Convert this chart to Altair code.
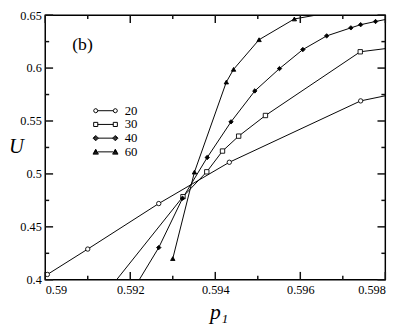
import math
import altair as alt
import pandas as pd

# ---------------- data ----------------
p20 = [0.59005, 0.59100, 0.59267, 0.59433, 0.59742, 0.59850]
u20 = [0.405, 0.429, 0.472, 0.511, 0.569, 0.578]

p30 = [0.59130, 0.59324, 0.59380, 0.59417, 0.59455, 0.59518, 0.59741, 0.59850]
u30 = [0.381, 0.4785, 0.502, 0.5216, 0.5357, 0.5552, 0.6154, 0.6209]

p40 = [0.59200, 0.59267, 0.59323, 0.59381, 0.59437, 0.59493, 0.59551,
       0.59606, 0.59662, 0.59719, 0.59742, 0.59777, 0.59850]
u40 = [0.386, 0.4304, 0.477, 0.5155, 0.5492, 0.5784, 0.5995,
       0.6175, 0.6304, 0.638, 0.641, 0.644, 0.650]

p60 = [0.59300, 0.59351, 0.59426, 0.59443, 0.59503, 0.59586, 0.59660]
u60 = [0.420, 0.5017, 0.5868, 0.5988, 0.6268, 0.6464, 0.6517]

series_names = ["20", "30", "40", "60"]
hollow_series = ["20", "30"]
filled_series = ["40", "60"]

x_major = [0.590, 0.592, 0.594, 0.596, 0.598]
x_minor = [0.591, 0.593, 0.595, 0.597]
y_major = [0.40, 0.45, 0.50, 0.55, 0.60, 0.65]
y_minor = [0.425, 0.475, 0.525, 0.575, 0.625]

panel_label = ["(b)"]
panel_label_p = [0.590876]
panel_label_u = [0.622]

# ---------------- tables ----------------
rows = []
for name, ps, us in zip(series_names, [p20, p30, p40, p60], [u20, u30, u40, u60]):
    for p, u in zip(ps, us):
        rows.append({"N": name, "p": p, "U": u})
df = pd.DataFrame(rows)
ann = pd.DataFrame({"t": panel_label, "p": panel_label_p, "U": panel_label_u})
legdf = pd.DataFrame({"N": series_names})

# ---------------- styling ----------------
W, H = 347, 270
FONT = "Liberation Serif"
xs = alt.Scale(domain=[0.590, 0.598], nice=False, zero=False)
ys = alt.Scale(domain=[0.40, 0.65], nice=False, zero=False)
marker_shapes = ["circle", "square", "diamond", "triangle-up"]

# legend symbols: a line with a marker at each end (custom SVG paths)
SYM = 121                      # symbol size -> 5.5 px per unit
PX = math.sqrt(SYM) / 2
U_HALF = 10 / PX
M = 2.1 / PX


def octagon(cx, r):
    pts = [(cx + r * math.cos(k * math.pi / 4), r * math.sin(k * math.pi / 4)) for k in range(8)]
    return "M" + "L".join(f"{a:.3f},{b:.3f}" for a, b in pts) + "Z"


def square(cx, r):
    return f"M{cx-r:.3f},{-r:.3f}H{cx+r:.3f}V{r:.3f}H{cx-r:.3f}Z"


def diamond_one(cx, r):
    return f"M{cx:.3f},{-r:.3f}L{cx+r:.3f},0L{cx:.3f},{r:.3f}L{cx-r:.3f},0Z"


def diamond(cx, r):
    r = r * 1.3
    return "".join(diamond_one(cx, r * k) for k in (1.0, 0.68, 0.36, 0.05))


def triangle_one(cx, r):
    return f"M{cx:.3f},{-r:.3f}L{cx+r:.3f},{0.85*r:.3f}L{cx-r:.3f},{0.85*r:.3f}Z"


def triangle(cx, r):
    r = r * 1.3
    return "".join(triangle_one(cx, r * k) for k in (1.0, 0.68, 0.36, 0.05))


def legend_path(fn):
    line = f"M{-U_HALF+M:.3f},0H{U_HALF-M:.3f}"
    return line + fn(-U_HALF, M) + fn(U_HALF, M)


legend_shapes = [legend_path(f) for f in (octagon, square, diamond, triangle)]

# inward tick marks on all four sides (tick marks placed by the scales)
tick_layers = []
for vals, ln in ((x_major, 8), (x_minor, 4)):
    tdf = pd.DataFrame({"tx": vals})
    for yc in (H - ln / 2, ln / 2):
        tick_layers.append(alt.Chart(tdf).mark_tick(
            color="#111111", orient="vertical", size=ln, thickness=1.5, opacity=1).encode(
            x=alt.X("tx:Q", scale=xs), y=alt.value(yc)))
for vals, ln in ((y_major, 8), (y_minor, 4)):
    tdf = pd.DataFrame({"ty": vals})
    for xc in (ln / 2, W - ln / 2):
        tick_layers.append(alt.Chart(tdf).mark_tick(
            color="#111111", orient="horizontal", size=ln, thickness=1.5, opacity=1).encode(
            y=alt.Y("ty:Q", scale=ys), x=alt.value(xc)))

lines = alt.Chart(df).mark_line(color="black", strokeWidth=1, clip=True).encode(
    x=alt.X("p:Q", scale=xs, axis=alt.Axis(
        orient="bottom", values=x_major, format="~g", ticks=False, domain=False, grid=False,
        labelFont=FONT, labelFontSize=12.5, labelColor="black", labelPadding=4,
        title="p₁", titleFont=FONT, titleFontStyle="italic", titleFontWeight="normal",
        titleFontSize=22, titleColor="black", titleX=177, titleY=40,
        titleBaseline="alphabetic", titleAlign="center")),
    y=alt.Y("U:Q", scale=ys, axis=alt.Axis(
        orient="left", values=y_major, format="~g", ticks=False, domain=False, grid=False,
        labelFont=FONT, labelFontSize=12.5, labelColor="black", labelPadding=4,
        title="U", titleFont=FONT, titleFontStyle="italic", titleFontWeight="normal",
        titleFontSize=21, titleColor="black", titleAngle=0, titleX=-30, titleY=134,
        titleBaseline="middle", titleAlign="center")),
    detail="N:N",
)


def point_layer(subset, fill):
    return alt.Chart(df).transform_filter(
        alt.FieldOneOfPredicate(field="N", oneOf=subset)
    ).mark_point(stroke="black", strokeWidth=0.9, fill=fill, filled=True, opacity=1,
                 size=20, clip=True).encode(
        x=alt.X("p:Q", scale=xs),
        y=alt.Y("U:Q", scale=ys),
        shape=alt.Shape("N:N", scale=alt.Scale(domain=series_names, range=marker_shapes),
                        legend=None),
    )


points_hollow = point_layer(hollow_series, "white")
points_filled = point_layer(filled_series, "black")

label = alt.Chart(ann).mark_text(font=FONT, fontSize=18, color="black",
                                 align="center", baseline="middle").encode(
    x=alt.X("p:Q", scale=xs),
    y=alt.Y("U:Q", scale=ys),
    text="t:N",
)

# legend only: invisible marks, legend symbols kept
leg = alt.Chart(legdf).mark_point(stroke="black", strokeWidth=1, filled=False,
                                  size=0, strokeOpacity=0).encode(
    x=alt.value(-500),
    y=alt.value(-500),
    shape=alt.Shape("N:N", scale=alt.Scale(domain=series_names, range=legend_shapes),
                    legend=alt.Legend(orient="none", legendX=55, legendY=91, title=None,
                                      symbolSize=SYM, symbolStrokeColor="black",
                                      symbolFillColor="transparent",
                                      symbolStrokeWidth=1, symbolOpacity=1,
                                      symbolOffset=0,
                                      labelFont=FONT, labelFontSize=13, labelColor="black",
                                      labelOffset=13, rowPadding=0, padding=0)),
)

chart = (
    alt.layer(lines, points_hollow, points_filled, label, leg, *tick_layers)
    .resolve_scale(shape="independent")
    .properties(width=W, height=H, autosize=alt.AutoSizeParams(type="none"),
                padding={"left": 38, "top": 4, "right": 16, "bottom": 50})
    .configure_view(stroke="black", strokeWidth=1.5)
)

chart.save("out.html", embed_options={"renderer": "svg", "actions": False})
